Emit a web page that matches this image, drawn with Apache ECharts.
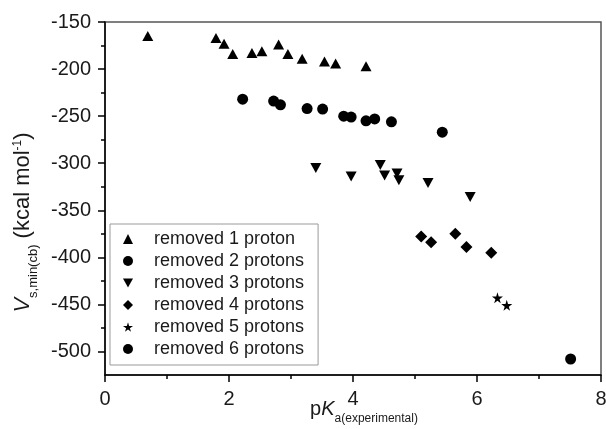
<!DOCTYPE html>
<html>
<head>
<meta charset="utf-8">
<script src="https://cdn.jsdelivr.net/npm/echarts@6/dist/echarts.min.js"></script>
<style>
	html, body { margin: 0; padding: 0; background: #fff; }
	#chart { width: 606px; height: 429px; }
</style>
</head>
<body>
<div id="chart"></div>
<script>
// [pKa(experimental), Vs,min(cb)]
var removed1 = [[0.69, -165], [1.79, -167], [1.92, -173], [2.06, -184], [2.37, -183], [2.53, -181],
	[2.80, -174], [2.95, -184], [3.18, -189], [3.54, -192], [3.72, -194], [4.21, -197]];
var removed2 = [[2.22, -232], [2.72, -234], [2.83, -238], [3.26, -242], [3.51, -242.5], [3.85, -250],
	[3.97, -251], [4.21, -255], [4.35, -253], [4.62, -256], [5.44, -267]];
var removed3 = [[3.40, -305], [3.97, -314], [4.44, -302], [4.51, -313], [4.71, -311], [4.74, -318],
	[5.21, -321], [5.89, -336]];
var removed4 = [[5.10, -378], [5.26, -384], [5.65, -375], [5.83, -389], [6.23, -395]];
var removed5 = [[6.33, -443], [6.48, -451]];
var removed6 = [[7.51, -508]];

var seriesNames = ['removed 1 proton', 'removed 2 protons', 'removed 3 protons',
	'removed 4 protons', 'removed 5 protons', 'removed 6 protons'];

var xMajorTicks = [0, 2, 4, 6, 8];
var xMinorTicks = [1, 3, 5, 7];
var yMajorTicks = [-500, -450, -400, -350, -300, -250, -200, -150];
var yMinorTicks = [-475, -425, -375, -325, -275, -225, -175];

(function() {
	var myChart = echarts.init(document.getElementById('chart'));
	var font = 'Liberation Sans, Arial, sans-serif';
	var ink = '#000';
	var textInk = '#1a1a1a';

	var downTri = 'path://M0,0 L10,0 L5,9 Z';
	var diamond = 'path://M5,0 L10,5 L5,10 L0,5 Z';
	var star = 'path://M50,0 L61,35 L98,35 L68,57 L79,91 L50,70 L21,91 L32,57 L2,35 L39,35 Z';

	function scatter(name, data, symbol, size) {
		return {
			name: name,
			type: 'scatter',
			data: data,
			symbol: symbol,
			symbolSize: size,
			itemStyle: { color: ink, opacity: 1 },
			xAxisIndex: 0,
			yAxisIndex: 0
		};
	}

	var minorX = {
		type: 'value', min: 0, max: 8, position: 'bottom',
		axisLine: { show: false },
		axisLabel: { show: false },
		splitLine: { show: false },
		axisTick: { show: true, customValues: xMinorTicks, length: 4, lineStyle: { color: ink, width: 1.5 } }
	};
	var minorY = {
		type: 'value', min: -525, max: -150, position: 'left',
		axisLine: { show: false },
		axisLabel: { show: false },
		splitLine: { show: false },
		axisTick: { show: true, customValues: yMinorTicks, length: 4, lineStyle: { color: ink, width: 1.5 } }
	};

	option = {
		backgroundColor: '#fff',
		animation: false,
		grid: {
			left: 105,
			right: 5,
			top: 22,
			bottom: 54,
			outerBoundsMode: 'none',
			containLabel: false,
			show: true,
			borderColor: '#555',
			borderWidth: 1.5
		},
		legend: {
			orient: 'vertical',
			left: 110,
			top: 224,
			data: seriesNames,
			itemWidth: 10,
			itemHeight: 10,
			itemGap: 4,
			padding: [6, 14, 7, 13],
			borderColor: '#999',
			borderWidth: 1,
			backgroundColor: '#fff',
			itemStyle: { opacity: 1 },
			textStyle: {
				fontFamily: font,
				fontSize: 18,
				color: textInk,
				padding: [0, 0, 0, 16]
			}
		},
		xAxis: [{
			type: 'value',
			min: 0,
			max: 8,
			position: 'bottom',
			name: '{m|p}{i|K}{s|a(experimental)}',
			nameLocation: 'middle',
			nameGap: 24,
			nameMoveOverlap: false,
			nameTextStyle: {
				padding: [0, 0, 0, 22],
				rich: {
					m: { fontFamily: font, fontSize: 20, color: textInk, lineHeight: 22, verticalAlign: 'top' },
					i: { fontFamily: font, fontSize: 20, fontStyle: 'italic', color: textInk, lineHeight: 22, verticalAlign: 'top' },
					s: { fontFamily: font, fontSize: 12, color: textInk, lineHeight: 12, padding: [14, 0, 0, 0], verticalAlign: 'top' }
				}
			},
			axisLine: { lineStyle: { color: ink, width: 1.5 } },
			axisTick: { show: true, customValues: xMajorTicks, length: 7, lineStyle: { color: ink, width: 1.5 } },
			axisLabel: { customValues: xMajorTicks, margin: 14, fontFamily: font, fontSize: 20, color: textInk },
			splitLine: { show: false }
		}, minorX],
		yAxis: [{
			type: 'value',
			min: -525,
			max: -150,
			position: 'left',
			name: '{i|V}{s|s,min(cb)}{m| (kcal mol}{p|-1}{m|)}',
			nameLocation: 'middle',
			nameGap: 69,
			nameMoveOverlap: false,
			nameTextStyle: {
				padding: [0, 48, 0, 0],
				rich: {
					i: { fontFamily: font, fontSize: 22, fontStyle: 'italic', color: textInk, lineHeight: 24, verticalAlign: 'top' },
					m: { fontFamily: font, fontSize: 22, color: textInk, lineHeight: 24, verticalAlign: 'top' },
					s: { fontFamily: font, fontSize: 13, color: textInk, lineHeight: 13, padding: [15, 0, 0, 0], verticalAlign: 'top' },
					p: { fontFamily: font, fontSize: 12, color: textInk, lineHeight: 12, padding: [0, 0, 0, 0], verticalAlign: 'top' }
				}
			},
			axisLine: { lineStyle: { color: ink, width: 1.5 } },
			axisTick: { show: true, customValues: yMajorTicks, length: 7, lineStyle: { color: ink, width: 1.5 } },
			axisLabel: { customValues: yMajorTicks, margin: 14, fontFamily: font, fontSize: 20, color: textInk },
			splitLine: { show: false }
		}, minorY],
		series: [
			scatter(seriesNames[0], removed1, 'triangle', [11, 10]),
			scatter(seriesNames[1], removed2, 'circle', 11),
			scatter(seriesNames[2], removed3, downTri, [11, 10]),
			scatter(seriesNames[3], removed4, diamond, 12),
			scatter(seriesNames[4], removed5, star, 11),
			scatter(seriesNames[5], removed6, 'circle', 11)
		]
	};

	myChart.setOption(option);
})();
</script>
</body>
</html>
